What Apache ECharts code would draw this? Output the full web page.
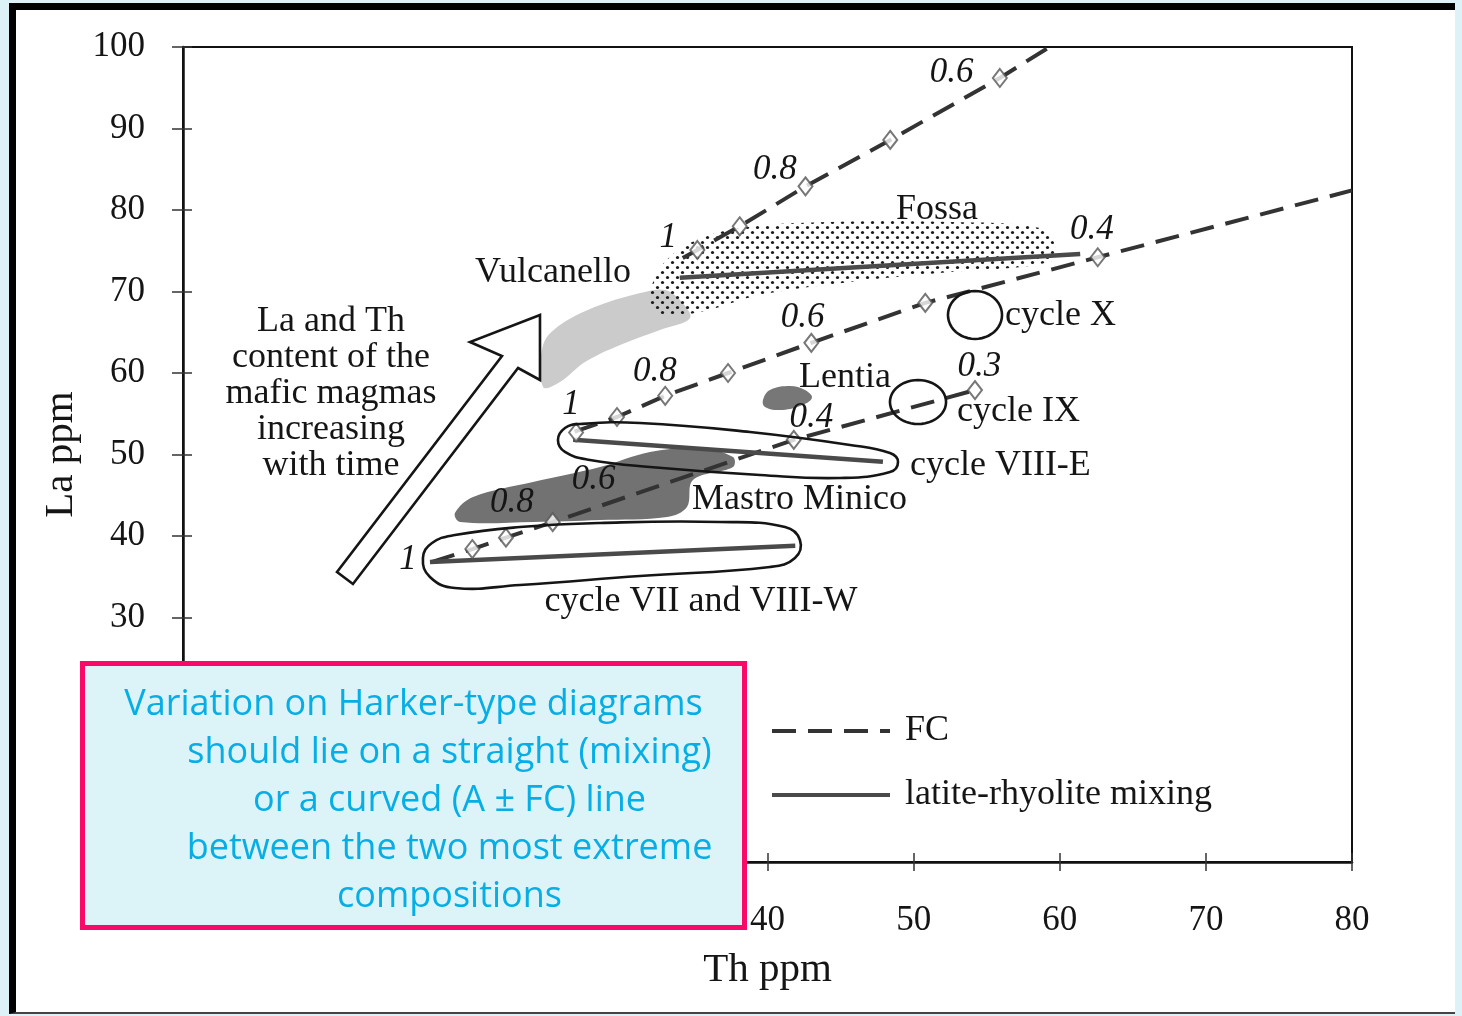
<!DOCTYPE html>
<html><head><meta charset="utf-8">
<script src="https://cdn.jsdelivr.net/npm/echarts@6/dist/echarts.min.js"></script>
<style>
html,body{margin:0;padding:0;background:#dcf2f7;width:1462px;height:1016px;overflow:hidden}
#frame{position:absolute;left:9px;top:3px;width:1439px;height:1002px;background:#fff;border-left:7px solid #000;border-top:7px solid #000;border-bottom:2px solid #444}
#chart{position:absolute;left:0;top:0;width:1462px;height:1016px}
</style></head>
<body><div id="frame"></div><div id="chart"></div>
<script>
// ---- axes ----
const xTicks = [0, 10, 20, 30, 40, 50, 60, 70, 80];
const yTicks = [0, 10, 20, 30, 40, 50, 60, 70, 80, 90, 100];

// ---- FC (fractional crystallisation) trends [Th, La] ----
const fcUpper  = [[34.2, 74.1], [38.1, 78.0], [42.6, 82.9], [48.4, 88.6], [55.9, 96.2], [59.3, 100.0]];
const fcMiddle = [[26.8, 52.8], [29.7, 54.6], [33.0, 57.2], [37.3, 60.0], [43.0, 63.7], [50.8, 68.6], [62.6, 74.2], [80.0, 82.4]];
const fcLower  = [[17.0, 36.8], [19.8, 38.4], [22.1, 39.8], [25.3, 41.7], [41.8, 51.8], [54.2, 57.9]];
// diamond steps on FC trends
const fcSteps = [
  [35.2, 75.1], [38.1, 78.0], [42.6, 82.9], [48.4, 88.6], [55.9, 96.2],
  [26.9, 52.7], [29.7, 54.6], [33.0, 57.2], [37.3, 60.0], [43.0, 63.7], [50.8, 68.6], [62.6, 74.2],
  [19.8, 38.4], [22.1, 39.8], [25.3, 41.7], [41.8, 51.8], [54.2, 57.9]
];
// fraction labels [Th, La, text]
const fractionLabels = [
  [33.2, 76.6, '1'], [40.5, 84.9, '0.8'], [52.6, 96.8, '0.6'],
  [26.55, 56.1, '1'], [32.3, 60.1, '0.8'], [42.4, 66.75, '0.6'], [62.2, 77.55, '0.4'],
  [15.4, 37.06, '1'], [22.5, 44.05, '0.8'], [28.1, 46.9, '0.6'], [43.0, 54.5, '0.4'], [54.5, 60.7, '0.3']
];

// ---- latite-rhyolite mixing lines ----
const mixFossa = [[34.0, 71.7], [61.4, 74.6]];
const mixVIIIE = [[26.7, 51.8], [47.9, 49.1]];
const mixVII   = [[16.9, 36.8], [41.9, 38.8]];

// ---- fields ----
const vulcanelloField = [[24.64,58.28],[24.64,63.44],[25.8,65.89],[28.54,68.34],[31.62,69.94],[32.99,70.18],[34.01,68.96],[34.7,66.75],[32.64,65.28],[29.91,63.44],[27.51,61.35],[25.8,58.9]];
const fossaField = [[31.96,68.96],[32.64,72.88],[34.7,75.95],[38.12,77.79],[44.28,78.53],[52.49,78.53],[58.65,77.79],[59.67,75.71],[59.33,73.62],[52.49,72.39],[45.65,71.17],[39.49,69.57],[35.38,67.48],[32.64,67.12]];
const mastroMinicoField = [[18.61,42.82],[19.85,44.79],[23.95,46.63],[28.54,48.47],[31.96,50.31],[35.38,50.8],[37.64,49.69],[37.64,48.47],[34.9,46.87],[34.49,43.56],[33.12,42.33],[28.54,41.96],[23.95,41.72],[18.96,41.72]];
const lentiaField = [[39.69,56.69],[40.17,57.91],[41.54,58.4],[42.57,57.91],[43.04,56.93],[42.22,55.95],[40.86,55.46],[39.83,55.83]];
const loopVIIIE = [[25.66,51.78],[26.14,53.25],[27.17,53.74],[31.27,53.87],[38.8,52.76],[45.65,51.17],[48.38,50.18],[48.93,49.08],[48.38,47.85],[44.96,47.12],[39.49,47.48],[31.96,48.47],[27.85,49.33],[26.14,50.31]];
const loopVII = [[16.42,37.3],[17.04,39.14],[18.61,40.12],[23.06,41.1],[28.54,41.6],[36.75,41.72],[41.2,41.1],[42.22,39.51],[41.88,37.3],[40.17,36.2],[31.27,35.09],[23.06,33.99],[18.61,33.62],[16.9,34.97]];
// ellipses [Th centre, La centre, Th half-width, La half-height]
const cycleIX = [50.3, 56.44, 1.92, 2.7];
const cycleX  = [54.2, 67.12, 1.85, 2.94];
// time arrow outline
const timeArrow = [[24.43,67.12],[19.64,63.8],[21.83,62.09],[10.54,35.58],[11.63,34.11],[22.93,60.61],[24.43,59.14]];

// ---- text labels [Th, La, text, align] ----
const fieldLabels = [
  [25.32, 72.27, 'Vulcanello', 'center'],
  [51.6, 80.0, 'Fossa', 'center'],
  [56.25, 66.99, 'cycle X', 'left'],
  [52.97, 55.21, 'cycle IX', 'left'],
  [49.75, 48.59, 'cycle VIII-E', 'left'],
  [45.3, 59.39, 'Lentia', 'center'],
  [34.83, 44.42, 'Mastro Minico', 'left'],
  [35.45, 31.9, 'cycle VII and VIII-W', 'center'],
  [10.13, 57.42, 'La and Th\ncontent of the\nmafic magmas\nincreasing\nwith time', 'center']
];

const calloutLines = [
  'Variation on Harker-type diagrams',
  'should lie on a straight (mixing)',
  'or a curved (A \u00b1 FC) line',
  'between the two most extreme',
  'compositions'
];

// ---------------------------------------------------------------
const SERIF = '"Liberation Serif", "DejaVu Serif", serif';
const ink = '#151515';

const pc = document.createElement('canvas');
pc.width = 10; pc.height = 10;
const pctx = pc.getContext('2d');
pctx.fillStyle = '#1a1a1a';
pctx.beginPath(); pctx.arc(2.5, 2.5, 1.6, 0, Math.PI * 2); pctx.fill();
pctx.beginPath(); pctx.arc(7.5, 7.5, 1.6, 0, Math.PI * 2); pctx.fill();
const dotPattern = { image: pc, repeat: 'repeat' };

function polygonSeries(pts, style, z, smooth) {
  return {
    type: 'custom', coordinateSystem: 'cartesian2d', silent: true, z: z, clip: false,
    data: pts, encode: { x: 0, y: 1 },
    renderItem: function (params, api) {
      if (params.dataIndex !== 0) return null;
      return {
        type: 'polygon',
        shape: { points: pts.map(function (p) { return api.coord(p); }), smooth: smooth || 0 },
        style: style
      };
    }
  };
}
function ellipseSeries(e, z) {
  return {
    type: 'custom', coordinateSystem: 'cartesian2d', silent: true, z: z,
    data: [e], encode: { x: 0, y: 1 },
    renderItem: function (params, api) {
      const c = api.coord([e[0], e[1]]);
      const s = api.size([e[2], e[3]]);
      const pts = [];
      for (let i = 0; i < 48; i++) {
        const a = i / 48 * Math.PI * 2;
        pts.push([c[0] + s[0] * Math.cos(a), c[1] + s[1] * Math.sin(a)]);
      }
      return { type: 'polygon', shape: { points: pts }, style: { fill: 'none', stroke: ink, lineWidth: 2.6 } };
    }
  };
}
function textSeries(items, font, z) {
  return {
    type: 'custom', coordinateSystem: 'cartesian2d', silent: true, z: z, clip: false,
    data: items.map(function (d) { return [d[0], d[1]]; }), encode: { x: 0, y: 1 },
    renderItem: function (params, api) {
      const d = items[params.dataIndex];
      const p = api.coord([d[0], d[1]]);
      return { type: 'text', x: p[0], y: p[1],
        style: { text: d[2], font: font, fill: ink, align: d[3] || 'center', verticalAlign: 'middle', lineHeight: 36 } };
    }
  };
}
function fcLine(d) {
  return { name: 'FC', type: 'line', data: d, symbol: 'none', z: 3, silent: true,
    itemStyle: { color: '#333' },
    lineStyle: { color: '#333', width: 4, type: [24, 12] } };
}
function mixLine(d) {
  return { name: 'latite-rhyolite mixing', type: 'line', data: d, symbol: 'none', z: 3, silent: true,
    itemStyle: { color: '#4a4a4a' },
    lineStyle: { color: '#4a4a4a', width: 4.5, type: 'solid' } };
}

const axisFont = { fontFamily: SERIF, fontSize: 35, color: ink };
const CALLOUT_FONT = '36px "Open Sans", Lato, sans-serif';

const calloutChildren = [
  { type: 'rect', zlevel: 5, z: 100, shape: { x: 0, y: 0, width: 662, height: 264 },
    style: { fill: '#dcf3f8', stroke: '#fa0a68', lineWidth: 5 } }
];
calloutLines.forEach(function (t, i) {
  calloutChildren.push({ type: 'text', zlevel: 5, z: 101, x: i === 0 ? 331 : 367, y: 41 + i * 48,
    style: { text: t, font: CALLOUT_FONT, fill: '#07aee6', align: 'center', verticalAlign: 'middle' } });
});

const option = {
  backgroundColor: 'transparent',
  animation: false,
  grid: { left: 183, right: 110, top: 47, bottom: 154, show: true, borderColor: '#111', borderWidth: 2, backgroundColor: 'transparent' },
  xAxis: [
    { type: 'value', min: xTicks[0], max: xTicks[xTicks.length - 1], interval: 10,
      name: 'Th ppm', nameLocation: 'middle', nameGap: 88,
      nameTextStyle: { fontFamily: SERIF, fontSize: 41, color: ink },
      axisLine: { show: true, lineStyle: { color: '#111', width: 2.5 } },
      axisTick: { show: true, length: 9, lineStyle: { color: '#333', width: 1.5 } },
      axisLabel: Object.assign({ margin: 41 }, axisFont),
      splitLine: { show: false } },
    { type: 'value', min: xTicks[0], max: xTicks[xTicks.length - 1], interval: 10, position: 'bottom',
      axisLine: { show: false }, axisTick: { show: true, inside: true, length: 9, lineStyle: { color: '#333', width: 1.5 } },
      axisLabel: { show: false }, splitLine: { show: false } }
  ],
  yAxis: [
    { type: 'value', min: yTicks[0], max: yTicks[yTicks.length - 1], interval: 10,
      name: 'La ppm', nameLocation: 'middle', nameGap: 90,
      nameTextStyle: { fontFamily: SERIF, fontSize: 41, color: ink },
      axisLine: { show: true, lineStyle: { color: '#111', width: 2.5 } },
      axisTick: { show: true, length: 11, lineStyle: { color: '#333', width: 1.5 } },
      axisLabel: Object.assign({ margin: 38 }, axisFont),
      splitLine: { show: false } },
    { type: 'value', min: yTicks[0], max: yTicks[yTicks.length - 1], interval: 10, position: 'left',
      axisLine: { show: false }, axisTick: { show: true, inside: true, length: 9, lineStyle: { color: '#333', width: 1.5 } },
      axisLabel: { show: false }, splitLine: { show: false } }
  ],
  legend: {
    data: ['FC', 'latite-rhyolite mixing'], orient: 'vertical', left: 765, top: 708,
    itemWidth: 118, itemHeight: 14, itemGap: 28, selectedMode: false,
    itemStyle: { opacity: 0 },
    lineStyle: { width: 4 },
    textStyle: { fontFamily: SERIF, fontSize: 36, color: ink, padding: [0, 0, 0, 10] }
  },
  series: [
    polygonSeries(vulcanelloField, { fill: '#cbcbcb', stroke: 'none' }, 1, 0.35),
    polygonSeries(fossaField, { fill: dotPattern, stroke: 'none' }, 1, 0.35),
    polygonSeries(mastroMinicoField, { fill: '#727272', stroke: 'none' }, 1, 0.35),
    polygonSeries(lentiaField, { fill: '#777', stroke: 'none' }, 1, 0.4),
    fcLine(fcUpper), fcLine(fcMiddle), fcLine(fcLower),
    mixLine(mixFossa), mixLine(mixVIIIE), mixLine(mixVII),
    { name: 'FC steps', type: 'scatter', data: fcSteps, symbol: 'diamond', symbolSize: [14, 18], z: 4, silent: true,
      itemStyle: { color: '#fff', borderColor: '#555', borderWidth: 2 } },
    polygonSeries(loopVIIIE, { fill: 'none', stroke: ink, lineWidth: 2.6 }, 5, 0.45),
    polygonSeries(loopVII, { fill: 'none', stroke: ink, lineWidth: 2.6 }, 5, 0.45),
    ellipseSeries(cycleIX, 5),
    ellipseSeries(cycleX, 5),
    polygonSeries(timeArrow, { fill: '#fff', stroke: ink, lineWidth: 2.6, lineJoin: 'miter' }, 5, 0),
    textSeries(fieldLabels, '36px ' + SERIF, 6),
    textSeries(fractionLabels, 'italic 35px ' + SERIF, 6)
  ],
  graphic: [{
    type: 'group', left: 80, top: 661, zlevel: 5, z: 100,
    children: calloutChildren
  }]
};

const chart = echarts.init(document.getElementById('chart'), null, { renderer: 'canvas' });
chart.setOption(option);
</script>
</body></html>
